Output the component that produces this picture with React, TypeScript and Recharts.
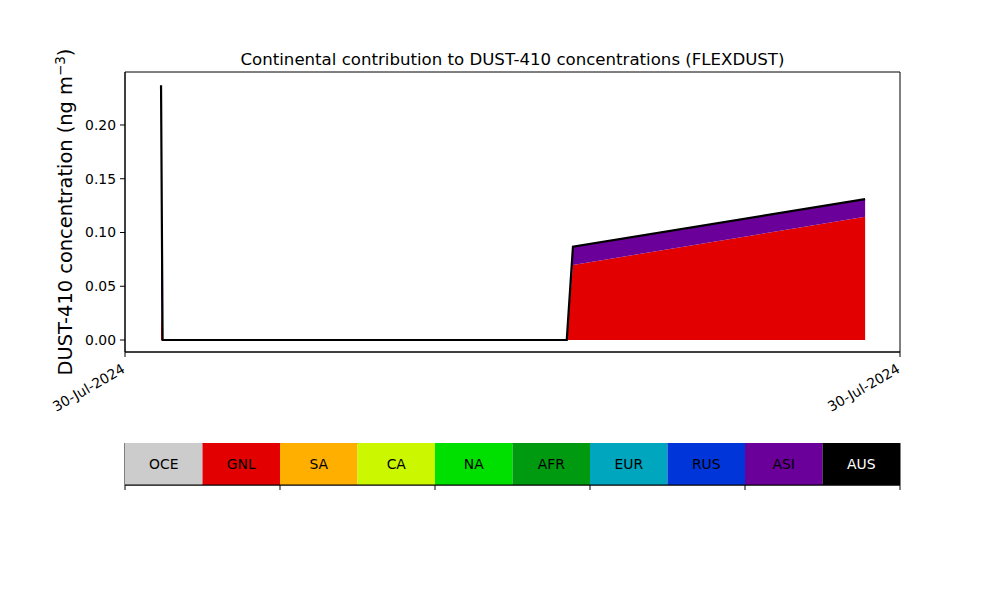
import React from "react";
import {
  ComposedChart,
  Area,
  Line,
  XAxis,
  YAxis,
  BarChart,
  Bar,
  ReferenceArea,
} from "recharts";

const FONT = "'DejaVu Sans', sans-serif";

// x position as percent of the plotted time window (both ends are 30-Jul-2024)
const times = [4.65, 4.85, 57.0, 57.8, 95.5];
const oce = [0, 0, 0, 0, 0];
const gnl = [0.035, 0, 0, 0.0698, 0.1147];
const sa = [0, 0, 0, 0, 0];
const ca = [0, 0, 0, 0, 0];
const na = [0, 0, 0, 0, 0];
const afr = [0, 0, 0, 0, 0];
const eur = [0.003, 0, 0, 0, 0];
const rus = [0.007, 0, 0, 0, 0];
const asi = [0.192, 0, 0, 0.017, 0.0163];
const aus = [0, 0, 0, 0, 0];

const regions = ["OCE", "GNL", "SA", "CA", "NA", "AFR", "EUR", "RUS", "ASI", "AUS"];
const regionColors = [
  "#cccccc",
  "#e30000",
  "#ffaf00",
  "#cbf800",
  "#00e000",
  "#009a10",
  "#00a6bd",
  "#0036d9",
  "#6a0099",
  "#000000",
];
const seriesValues = [oce, gnl, sa, ca, na, afr, eur, rus, asi, aus];

const yDomain = [-0.01116, 0.2493];
const yTicks = [0, 0.05, 0.1, 0.15, 0.2];
const xTicks = [0, 100];
const xTickLabels = ["30-Jul-2024", "30-Jul-2024"];

const data = times.map((t, i) => {
  const row: Record<string, number> = { t };
  let total = 0;
  regions.forEach((r, k) => {
    row[r] = seriesValues[k][i];
    total += seriesValues[k][i];
  });
  row.total = total;
  return row;
});

const barRow = [
  regions.reduce((acc: Record<string, any>, r) => {
    acc[r] = 1;
    return acc;
  }, { row: "c" }),
];

function DateTick(props: any) {
  const { x, y, payload, index } = props;
  return (
    <g transform={`translate(${x - 4},${y + 4})`}>
      <text
        transform="rotate(-30)"
        textAnchor="end"
        dy={10}
        fontSize={13.9}
        fontFamily={FONT}
        fill="#000"
      >
        {xTickLabels[index] ?? payload.value}
      </text>
    </g>
  );
}

export default function App() {
  return (
    <div
      style={{
        position: "absolute",
        left: 0,
        top: 0,
        width: 1000,
        height: 600,
        background: "#fff",
        fontFamily: FONT,
      }}
    >
      <div
        style={{
          position: "absolute",
          left: 125,
          width: 775,
          top: 50,
          textAlign: "center",
          fontSize: 16.6,
          color: "#000",
          whiteSpace: "nowrap",
        }}
      >
        Continental contribution to DUST-410 concentrations (FLEXDUST)
      </div>
      <div
        style={{
          position: "absolute",
          left: 65,
          top: 212,
          transform: "translate(-50%, -50%) rotate(-90deg)",
          fontSize: 19.4,
          whiteSpace: "nowrap",
          color: "#000",
        }}
      >
        DUST-410 concentration (ng m<sup style={{ fontSize: 13.5, verticalAlign: "7px", lineHeight: 0 }}>−3</sup>)
      </div>

      <div style={{ position: "absolute", left: 0, top: 0 }}>
        <ComposedChart
          width={1000}
          height={420}
          data={data}
          margin={{ top: 72, right: 100, bottom: 8, left: 65 }}
        >
          <XAxis
            dataKey="t"
            type="number"
            domain={[0, 100]}
            ticks={xTicks}
            height={60}
            tick={<DateTick />}
            tickSize={5}
            axisLine={{ stroke: "#000", strokeWidth: 1 }}
            tickLine={{ stroke: "#000" }}
            interval={0}
          />
          <YAxis
            type="number"
            domain={yDomain}
            ticks={yTicks}
            width={60}
            tickSize={5}
            tickMargin={4}
            allowDataOverflow
            tickFormatter={(v: number) => v.toFixed(2)}
            tick={{ fill: "#000", fontSize: 13.9, fontFamily: FONT }}
            axisLine={{ stroke: "#000", strokeWidth: 1 }}
            tickLine={{ stroke: "#000" }}
          />
          {regions.map((r, k) => (
            <Area
              key={r}
              type="linear"
              dataKey={r}
              stackId="a"
              stroke="none"
              fill={regionColors[k]}
              fillOpacity={1}
              isAnimationActive={false}
            />
          ))}
          <Line
            type="linear"
            dataKey="total"
            stroke="#000"
            strokeWidth={2.2}
            dot={false}
            isAnimationActive={false}
          />
          <ReferenceArea
            x1={0}
            x2={100}
            y1={yDomain[0]}
            y2={yDomain[1]}
            fill="none"
            stroke="#000"
            strokeWidth={1}
            fillOpacity={0}
            ifOverflow="visible"
          />
        </ComposedChart>
      </div>

      <div style={{ position: "absolute", left: 0, top: 443 }}>
        <BarChart
          width={1000}
          height={70}
          data={barRow}
          layout="vertical"
          barCategoryGap={0}
          margin={{ top: 0, right: 100, bottom: 0, left: 125 }}
        >
          <XAxis
            type="number"
            domain={[0, 10]}
            ticks={[0, 2, 4, 6, 8, 10]}
            tickFormatter={() => ""}
            tickSize={5}
            height={28}
            axisLine={{ stroke: "#000" }}
            tickLine={{ stroke: "#000" }}
            interval={0}
          />
          <YAxis type="category" dataKey="row" width={0} tick={false} tickLine={false} axisLine={false} />
          {regions.map((r, k) => (
            <Bar
              key={r}
              dataKey={r}
              stackId="c"
              fill={regionColors[k]}
              isAnimationActive={false}
              label={(p: any) => (
                <text
                  x={p.x + p.width / 2}
                  y={p.y + p.height / 2}
                  textAnchor="middle"
                  dominantBaseline="central"
                  fontSize={13.9}
                  fontFamily={FONT}
                  fill={r === "AUS" ? "#fff" : "#000"}
                >
                  {r}
                </text>
              )}
            />
          ))}
          <ReferenceArea
            x1={0}
            x2={10}
            fill="none"
            fillOpacity={0}
            stroke="#000"
            strokeWidth={1}
            ifOverflow="visible"
          />
        </BarChart>
      </div>
    </div>
  );
}
